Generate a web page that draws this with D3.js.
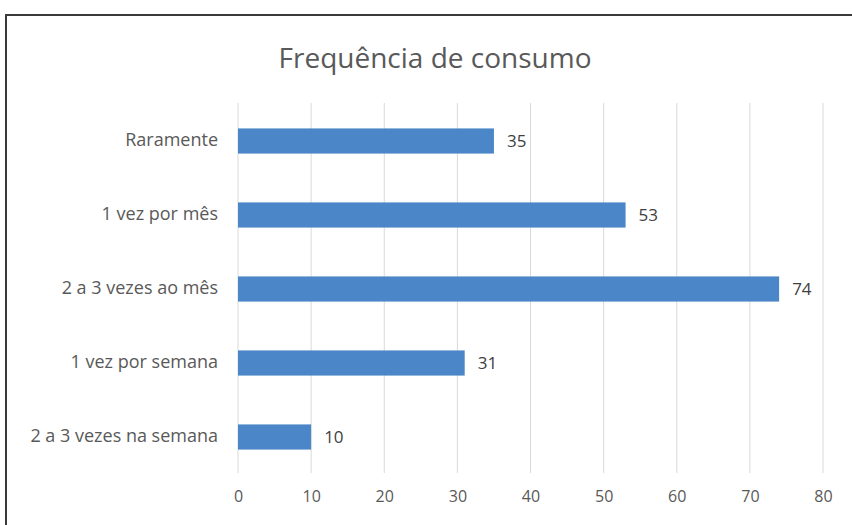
<!DOCTYPE html>
<html>
<head>
<meta charset="utf-8">
<script src="https://cdn.jsdelivr.net/npm/d3@7"></script>
<style>
  html, body { margin: 0; padding: 0; background: #fff; }
  svg { display: block; }
</style>
</head>
<body>
<svg id="chart" width="852" height="525"></svg>
<script>
const title = "Frequência de consumo";
const categories = ["Raramente", "1 vez por mês", "2 a 3 vezes ao mês", "1 vez por semana", "2 a 3 vezes na semana"];
const values = [35, 53, 74, 31, 10];
const xTicks = [0, 10, 20, 30, 40, 50, 60, 70, 80];

const svg = d3.select("#chart");
const W = 852, H = 525;
const margin = { left: 238, right: 29, top: 103, bottom: 52 };
const fontFam = "'Open Sans', 'Noto Sans', sans-serif";

// frame
svg.append("rect").attr("x", 6).attr("y", 15).attr("width", W).attr("height", H)
  .attr("fill", "#fff").attr("stroke", "#3a3a3a").attr("stroke-width", 2);

const x = d3.scaleLinear().domain([0, 80]).range([margin.left, W - margin.right]);
const y = d3.scaleBand().domain(categories).range([margin.top, H - margin.bottom]).paddingInner(0.66).paddingOuter(0.33);

// gridlines
svg.append("g").selectAll("line").data(xTicks).join("line")
  .attr("x1", d => x(d)).attr("x2", d => x(d))
  .attr("y1", margin.top).attr("y2", H - margin.bottom)
  .attr("stroke", "#d9d9d9").attr("stroke-width", 1);

// x axis labels
const xAxis = d3.axisBottom(x).tickValues(xTicks).tickSize(0).tickPadding(0);
const gx = svg.append("g").attr("transform", `translate(0, ${H - margin.bottom + 18})`).call(xAxis);
gx.select(".domain").remove();
gx.selectAll("text").attr("font-family", fontFam).attr("font-size", 16).attr("fill", "#595959");

// y axis labels
const yAxis = d3.axisLeft(y).tickSize(0).tickPadding(20);
const gy = svg.append("g").attr("transform", `translate(${margin.left}, 0)`).call(yAxis);
gy.select(".domain").remove();
gy.selectAll("text").attr("font-family", fontFam).attr("font-size", 18).attr("fill", "#595959");

// bars
svg.append("g").selectAll("rect").data(values).join("rect")
  .attr("x", x(0)).attr("y", (d, i) => y(categories[i]) + 1)
  .attr("width", d => x(d) - x(0)).attr("height", y.bandwidth())
  .attr("fill", "#4a86c8");

// value labels
svg.append("g").selectAll("text").data(values).join("text")
  .attr("x", d => x(d) + 13).attr("y", (d, i) => y(categories[i]) + 1 + y.bandwidth() / 2)
  .attr("dy", "0.35em")
  .attr("font-family", fontFam).attr("font-size", 17).attr("fill", "#404040")
  .text(d => d);

// title
svg.append("text").attr("x", 435).attr("y", 68).attr("text-anchor", "middle")
  .attr("font-family", fontFam).attr("font-size", 28).attr("fill", "#595959")
  .text(title);
</script>
</body>
</html>
